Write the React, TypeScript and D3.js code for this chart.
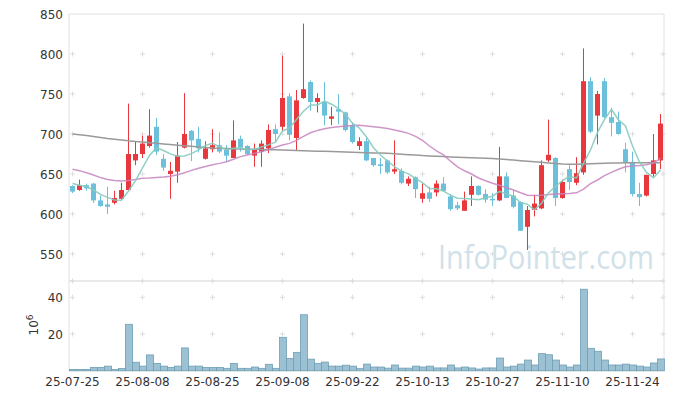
import React, { useEffect, useRef } from 'react';
import * as d3 from 'd3';

// daily candles, 85 trading days from 25-07-25
const opens = [635, 630, 636, 638, 617, 612, 614, 619, 630, 667, 675, 685, 709, 669, 650, 653, 683, 704, 694, 669, 681, 686, 680, 670, 694, 685, 673, 678, 682, 706, 709, 747, 695, 745, 765, 740, 740, 719, 731, 727, 711, 685, 691, 670, 662, 667, 653, 654, 638, 646, 619, 627, 627, 638, 622, 611, 604, 624, 635, 625, 619, 617, 647, 623, 615, 584, 605, 607, 667, 670, 620, 656, 639, 652, 766, 723, 766, 721, 715, 681, 665, 625, 623, 650, 667];
const highs = [636, 643, 638, 639, 623, 634, 629, 639, 738, 690, 698, 731, 720, 675, 665, 690, 751, 705, 709, 691, 706, 702, 686, 717, 698, 686, 688, 692, 712, 712, 798, 751, 755, 838, 767, 751, 765, 734, 750, 728, 713, 696, 696, 670, 670, 668, 692, 657, 647, 647, 638, 634, 642, 646, 625, 615, 628, 647, 636, 631, 626, 684, 652, 630, 616, 610, 624, 667, 718, 671, 643, 661, 671, 807, 771, 754, 770, 733, 728, 689, 678, 639, 649, 700, 725];
const lows = [626, 629, 629, 614, 609, 600, 612, 618, 629, 661, 670, 683, 674, 654, 619, 639, 682, 666, 677, 668, 677, 676, 665, 670, 678, 674, 659, 659, 676, 691, 704, 692, 679, 744, 729, 727, 711, 711, 712, 703, 688, 680, 666, 659, 650, 650, 650, 637, 635, 620, 614, 615, 622, 628, 604, 605, 604, 610, 623, 614, 610, 616, 620, 607, 579, 555, 597, 606, 665, 610, 619, 630, 636, 649, 701, 687, 720, 697, 699, 652, 622, 610, 622, 647, 656];
const closes = [628, 636, 632, 617, 610, 609, 620, 630, 675, 675, 688, 698, 678, 658, 654, 673, 700, 692, 682, 682, 686, 678, 673, 692, 683, 675, 681, 688, 705, 700, 745, 699, 742, 756, 740, 745, 723, 722, 728, 705, 690, 691, 667, 661, 660, 652, 656, 639, 644, 631, 626, 619, 638, 629, 606, 607, 617, 635, 624, 618, 617, 647, 620, 609, 579, 605, 613, 661, 674, 620, 640, 640, 651, 766, 703, 750, 721, 714, 700, 665, 625, 621, 649, 667, 713];
// closes of the 4 days before the window (for the 5-day average)
const preCloses = [646, 642, 637, 637];
// volume, millions
const volumes = [0.7, 0.7, 0.7, 1.8, 1.8, 2.5, 0.6, 1.2, 25.3, 4.6, 2.5, 8.6, 4.0, 2.5, 1.8, 2.5, 12.4, 2.5, 2.5, 1.8, 1.8, 1.8, 1.3, 4.0, 1.3, 1.3, 2.0, 1.3, 3.5, 1.3, 18.2, 6.7, 10.0, 30.5, 6.3, 4.0, 4.7, 2.5, 2.5, 3.0, 2.5, 1.3, 3.6, 2.0, 2.0, 1.4, 3.1, 1.4, 1.4, 2.5, 2.0, 2.5, 1.5, 1.5, 3.1, 1.5, 2.0, 1.5, 0.9, 1.5, 1.5, 6.9, 2.0, 2.5, 3.6, 5.8, 3.1, 9.3, 8.7, 5.8, 3.1, 2.0, 3.1, 44.4, 12.2, 10.6, 5.8, 3.1, 3.1, 3.6, 3.1, 2.5, 2.0, 4.2, 6.4];
// 20-day and long moving averages as drawn
const ma20 = [655.8, 654.2, 651.5, 648.8, 645.5, 643.2, 642, 641.3, 642, 643, 644.6, 645, 645.6, 646.3, 647.2, 649, 651.5, 654.5, 657.2, 659.5, 661.5, 663.3, 665.4, 668.5, 671.7, 673.8, 675.8, 677.9, 680.5, 683.5, 686.2, 688.3, 692, 697, 701.5, 704.5, 706.5, 708, 709, 710, 710.6, 711, 710, 709, 708, 707, 705, 703, 700.8, 697, 692, 685, 679, 673.8, 666, 659, 654, 650, 645, 641.5, 638.5, 636, 633, 630, 626.5, 623.5, 623, 623.5, 624.5, 625, 625.3, 625.6, 626.5, 631, 638, 642.5, 648, 652, 656, 659, 660, 660.5, 661.5, 664, 669.5];
const maLong = [700, 699, 698, 697, 695.7, 694.5, 693.5, 692.5, 691.5, 690.7, 690, 689.2, 688.4, 687.6, 686.8, 686, 685.3, 684.6, 683.9, 683.2, 682.5, 682.2, 681.9, 681.6, 681.3, 681, 680.8, 680.6, 680.4, 680.2, 680, 679.7, 679.4, 679.1, 678.8, 678.5, 678.3, 678, 677.8, 677.5, 677.3, 677, 676.7, 676.4, 676.1, 675.8, 675.3, 674.8, 674.2, 673.6, 673, 672.6, 672.2, 671.8, 671.4, 671, 670.7, 670.4, 670.1, 669.8, 669.5, 668.8, 668.1, 667.4, 666.7, 666, 665.3, 664.6, 663.9, 663.2, 662.5, 662.3, 662.3, 662.5, 662.8, 663, 663.3, 663.6, 663.9, 664.1, 664.2, 664.2, 664.2, 664.2, 664.2];

const tickIdx = [0, 10, 20, 30, 40, 50, 60, 70, 80];
const tickLabels = ['25-07-25', '25-08-08', '25-08-25', '25-09-08', '25-09-22', '25-10-13', '25-10-27', '25-11-10', '25-11-24'];
const priceTicks = [550, 600, 650, 700, 750, 800, 850];
const volTicks = [20, 40];

const UP = '#e8383d', DOWN = '#6cc0da';
const FONT = 'DejaVu Sans, Verdana, sans-serif';

const App = () => {
  const ref = useRef(null);

  useEffect(() => {
    if (!ref.current) return;
    const svg = d3.select(ref.current);
    svg.selectAll('*').remove();

    const n = closes.length;
    const left = 69, right = 664, top = 14, priceBottom = 281, volBottom = 371;

    const x = d3.scaleBand<number>().domain(d3.range(n)).range([left, right]);
    const cx = (i: number) => (x(i) as number) + x.bandwidth() / 2;
    const y = d3.scaleLinear().domain([550, 850]).range([254, 14]);
    const yv = d3.scaleLinear().domain([0, 40]).range([370.7, 297.3]);

    // frames
    svg.append('rect').attr('x', left).attr('y', top).attr('width', right - left).attr('height', volBottom - top)
      .attr('fill', 'none').attr('stroke', '#e2e2e2');
    svg.append('line').attr('x1', left).attr('x2', right).attr('y1', priceBottom).attr('y2', priceBottom)
      .attr('stroke', '#e2e2e2').attr('stroke-width', 1.5);

    // grid crosses
    const gx = tickIdx.map(cx).concat([right - 1]);
    const gy = priceTicks.filter(t => t < 850).map(y).concat([priceBottom], volTicks.map(yv));
    const cross = svg.append('g').attr('stroke', '#dcdcdc').attr('stroke-width', 1);
    gx.forEach(px => gy.forEach(py => {
      cross.append('line').attr('x1', px - 2.5).attr('x2', px + 2.5).attr('y1', py).attr('y2', py);
      cross.append('line').attr('x1', px).attr('x2', px).attr('y1', py - 2.5).attr('y2', py + 2.5);
    }));

    // watermark
    svg.append('text').attr('x', 438).attr('y', 269).attr('font-family', 'Open Sans, Noto Sans, sans-serif')
      .attr('font-size', 33).attr('fill', '#c9dce6').attr('opacity', 0.85)
      .attr('textLength', 216).attr('lengthAdjust', 'spacingAndGlyphs').text('InfoPointer.com');

    // axis labels
    const lab = svg.append('g').attr('font-family', FONT).attr('font-size', 12).attr('fill', '#333');
    priceTicks.forEach(t => lab.append('text').attr('x', 63).attr('y', y(t) + 4.5).attr('text-anchor', 'end').text(t));
    volTicks.forEach(t => lab.append('text').attr('x', 63).attr('y', yv(t) + 4.5).attr('text-anchor', 'end').text(t));
    tickIdx.forEach((t, k) => lab.append('text').attr('x', cx(t)).attr('y', 386).attr('text-anchor', 'middle').text(tickLabels[k]));
    const unit = lab.append('text').attr('transform', 'translate(38,325) rotate(-90)').attr('text-anchor', 'middle');
    unit.append('tspan').text('10');
    unit.append('tspan').attr('dy', -5).attr('font-size', 9).text('6');

    // volume bars
    svg.append('g').selectAll('rect').data(volumes).enter().append('rect')
      .attr('x', (d, i) => (x(i) as number) + 0.5)
      .attr('width', x.bandwidth())
      .attr('y', d => yv(d))
      .attr('height', d => yv(0) - yv(d))
      .attr('fill', '#9cc1d2').attr('stroke', '#6f9fb6').attr('stroke-width', 0.8);

    // candles
    const c = svg.append('g');
    closes.forEach((cl, i) => {
      const col = cl >= opens[i] ? UP : DOWN;
      c.append('line').attr('x1', cx(i)).attr('x2', cx(i)).attr('y1', y(highs[i])).attr('y2', y(lows[i]))
        .attr('stroke', col).attr('stroke-width', 1);
      const y0 = y(Math.max(cl, opens[i])), y1 = y(Math.min(cl, opens[i]));
      c.append('rect').attr('x', cx(i) - 2.5).attr('width', 5).attr('y', y0).attr('height', Math.max(1.5, y1 - y0))
        .attr('fill', col);
    });

    // moving averages
    const all = preCloses.concat(closes);
    const ma5 = closes.map((_, i) => d3.mean(all.slice(i, i + 5)) as number);
    const line = d3.line<number>().x((d, i) => cx(i)).y(d => y(d));
    svg.append('path').attr('d', line(maLong)).attr('fill', 'none').attr('stroke', '#9a9a9a').attr('stroke-width', 1.5);
    svg.append('path').attr('d', line(ma20)).attr('fill', 'none').attr('stroke', '#c784c0').attr('stroke-width', 1.5).attr('opacity', 0.85);
    svg.append('path').attr('d', line(ma5)).attr('fill', 'none').attr('stroke', '#86cbbf').attr('stroke-width', 1.5).attr('opacity', 0.9);
  }, []);

  return (
    <svg ref={ref} width={673} height={399} style={{ position: 'absolute', left: 0, top: 0, background: '#fff' }} />
  );
};

export default App;
